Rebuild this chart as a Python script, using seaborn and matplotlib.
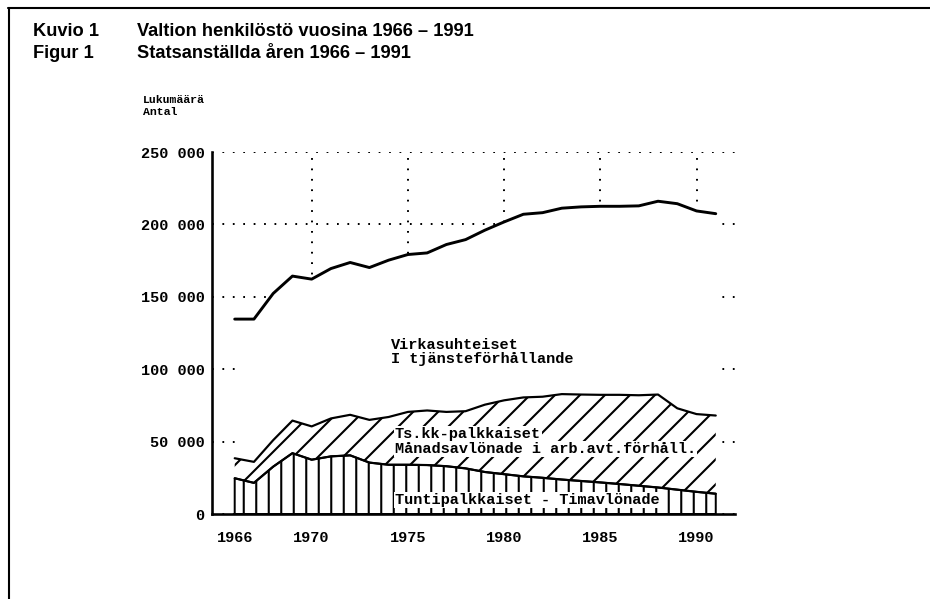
import matplotlib
matplotlib.use("Agg")
import matplotlib.pyplot as plt
import seaborn as sns
import pandas as pd
from matplotlib.ticker import FixedLocator
from matplotlib.lines import Line2D

# ---------------- data ----------------
years = list(range(1966, 1992))
total_staff = [134600, 134600, 152300, 164300, 162200, 169500, 173700, 170200,
               175300, 179200, 180300, 186100, 189500, 196000, 201700, 207000,
               208100, 211200, 212100, 212500, 212500, 212800, 216000, 214300,
               209300, 207400]
hourly_paid = [24700, 21500, 32700, 42000, 37500, 39800, 40500, 35500, 34000,
               34000, 33800, 33000, 31500, 29000, 27500, 26000, 25000, 23800,
               22800, 21800, 20700, 19500, 18300, 16800, 15300, 14000]
monthly_paid = [13800, 14500, 18300, 22500, 23000, 26200, 28000, 29500, 33000,
                36500, 37700, 37500, 39500, 46500, 51000, 54500, 56000, 59000,
                59700, 60500, 61600, 62500, 64200, 56200, 53700, 54000]

x_tick_years = [1966, 1970, 1975, 1980, 1985, 1990]
x_tick_labels = ["1966", "1970", "1975", "1980", "1985", "1990"]
grid_years = [1970, 1975, 1980, 1985, 1990]
y_ticks = [0, 50000, 100000, 150000, 200000, 250000]
y_tick_labels = ["0", "50 000", "100 000", "150 000", "200 000", "250 000"]

title_fi = "Valtion henkilöstö vuosina 1966 – 1991"
title_sv = "Statsanställda åren 1966 – 1991"
label_civil = ["Virkasuhteiset", "I tjänsteförhållande"]
label_monthly = ["Ts.kk-palkkaiset", "Månadsavlönade i arb.avt.förhåll."]
label_hourly = "Tuntipalkkaiset - Timavlönade"

df = pd.DataFrame({"year": years, "total": total_staff,
                   "hourly": hourly_paid, "monthly": monthly_paid})
df["hourly_top"] = df["hourly"]
df["monthly_top"] = df["hourly"] + df["monthly"]

# ---------------- style ----------------
sns.set_style("white")
MONO = ["Liberation Mono", "DejaVu Sans Mono"]
plt.rcParams["font.family"] = MONO
plt.rcParams["hatch.linewidth"] = 2.0
plt.rcParams["lines.scale_dashes"] = False

DPI = 75
W, H = 930, 599
fig = plt.figure(figsize=(W / DPI, H / DPI), dpi=DPI, facecolor="white")
ax = fig.add_axes([212 / W, 1 - 514 / H, (735 - 212) / W, (514 - 152) / H])
ax.set_facecolor("white")

dots = (0, (1.7, 8.3))
ax.set_axisbelow(True)
ax.yaxis.grid(True, color="black", linestyle=dots, linewidth=1.9)
ax.xaxis.grid(False)
ax.vlines(grid_years, 0, 250000, colors="black", linestyles=[dots],
          linewidth=1.9, zorder=0.5)

# white area under the total line hides the grid
ax.fill_between(df["year"], 0, df["total"], color="white", lw=0, zorder=1)

# hatched areas
ax.fill_between(df["year"], df["hourly_top"], df["monthly_top"],
                facecolor="white", edgecolor="black", hatch="/", lw=0, zorder=2)
ax.fill_between(df["year"], 0, df["hourly_top"],
                facecolor="white", edgecolor="black", hatch="|", lw=1.9, zorder=2)

sns.lineplot(data=df, x="year", y="total", color="black", lw=2.8, ax=ax, zorder=4)
sns.lineplot(data=df, x="year", y="monthly_top", color="black", lw=2.1, ax=ax, zorder=4)
sns.lineplot(data=df, x="year", y="hourly_top", color="black", lw=2.1, ax=ax, zorder=4)

ax.set_xlim(1964.82, 1992.0)
ax.set_ylim(0, 250000)
ax.set_xlabel("")
ax.set_ylabel("")

for s in ["top", "right"]:
    ax.spines[s].set_visible(False)
for s in ["left", "bottom"]:
    ax.spines[s].set_color("black")
    ax.spines[s].set_linewidth(2.5)

tick_font = dict(family=MONO, weight="bold", size=14.6)
ax.set_xticks(x_tick_years)
ax.set_xticklabels(x_tick_labels, fontdict=tick_font)
ax.xaxis.set_minor_locator(FixedLocator(list(range(1965, 1993))))
ax.set_yticks(y_ticks)
ax.set_yticklabels(y_tick_labels, fontdict=tick_font)
ax.tick_params(axis="x", which="major", direction="out", length=7, width=2,
               pad=9, colors="black")
ax.tick_params(axis="x", which="minor", direction="out", length=4, width=2,
               colors="black")
ax.tick_params(axis="y", which="major", direction="inout", length=8, width=2,
               pad=3, colors="black")
ax.xaxis.get_major_ticks()[0].tick1line.set_markersize(4)

lab_font = dict(family=MONO, weight="bold", size=14.6, color="black")
box = dict(facecolor="white", edgecolor="none", pad=1.2)
ax.text(1974.14, 116700, label_civil[0], ha="left", va="center", zorder=5, **lab_font)
ax.text(1974.14, 107000, label_civil[1], ha="left", va="center", zorder=5, **lab_font)
ax.text(1974.33, 55300, label_monthly[0], ha="left", va="center", zorder=5,
        bbox=box, **lab_font)
ax.text(1974.33, 44700, label_monthly[1], ha="left", va="center", zorder=5,
        bbox=box, **lab_font)
ax.text(1974.33, 9700, label_hourly, ha="left", va="center", zorder=5,
        bbox=box, **lab_font)

# titles and unit label
tfont = dict(family=["Liberation Sans", "DejaVu Sans"], weight="bold", size=17.5,
             color="black", va="center", ha="left")
fig.text(33 / W, 1 - 32 / H, "Kuvio 1", **tfont)
fig.text(137 / W, 1 - 32 / H, title_fi, **tfont)
fig.text(33 / W, 1 - 53 / H, "Figur 1", **tfont)
fig.text(137 / W, 1 - 53 / H, title_sv, **tfont)

ufont = dict(family=MONO, weight="bold", size=11, color="black",
             va="center", ha="left")
fig.text(143 / W, 1 - 100 / H, "Lukumäärä", **ufont)
fig.text(143 / W, 1 - 112 / H, "Antal", **ufont)

# frame of the scanned page
fig.add_artist(Line2D([8 / W, 1], [1 - 8 / H, 1 - 8 / H], color="black", lw=2))
fig.add_artist(Line2D([9 / W, 9 / W], [1 - 8 / H, 0], color="black", lw=2))

fig.savefig("out.png", dpi=DPI, facecolor="white")
